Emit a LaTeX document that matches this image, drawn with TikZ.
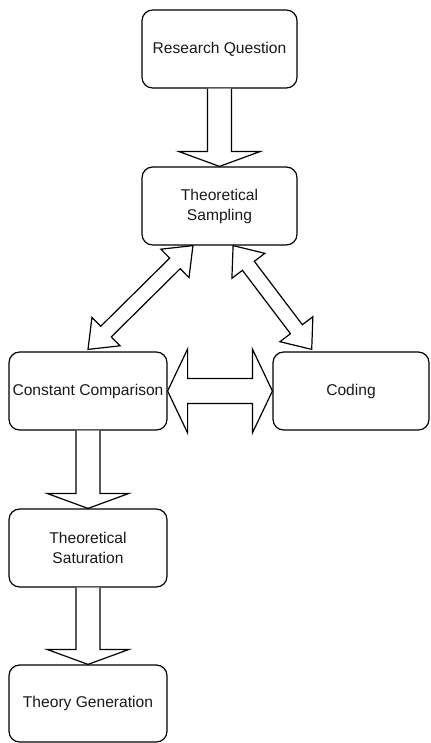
\documentclass[tikz,border=0pt]{standalone}
\usepackage{fontspec}
\setmainfont{Liberation Sans}
\usetikzlibrary{calc}
\tikzset{
  box/.style={draw, rounded corners=8pt, line width=0.9pt, align=center, inner sep=0pt,
    font=\fontsize{11.7}{15}\selectfont, text=black!90},
  flex/.style={draw, line width=0.9pt, fill=white, line join=miter}
}
\newcommand{\dblflex}[5]{%
  \coordinate (fa) at (#1);
  \coordinate (fb) at (#2);
  \coordinate (fa1) at ($(fa)!#3!(fb)$);
  \coordinate (fb1) at ($(fb)!#3!(fa)$);
  \draw[flex] (fa) -- ($(fa1)!#4!90:(fb)$) -- ($(fa1)!#5!90:(fb)$) -- ($(fb1)!#5!-90:(fa)$) -- ($(fb1)!#4!-90:(fa)$) -- (fb) -- ($(fb1)!#4!90:(fa)$) -- ($(fb1)!#5!90:(fa)$) -- ($(fa1)!#5!-90:(fb)$) -- ($(fa1)!#4!-90:(fb)$) -- cycle;
}
\newcommand{\oneflex}[5]{%
  \coordinate (fa) at (#1);
  \coordinate (fb) at (#2);
  \coordinate (fb1) at ($(fb)!#3!(fa)$);
  \draw[flex] ($(fa)!#5!90:(fb)$) -- ($(fb1)!#5!-90:(fa)$) -- ($(fb1)!#4!-90:(fa)$) -- (fb) -- ($(fb1)!#4!90:(fa)$) -- ($(fb1)!#5!90:(fa)$) -- ($(fa)!#5!-90:(fb)$);
}
\begin{document}
\begin{tikzpicture}[x=0.75pt, y=-0.75pt]
  \useasboundingbox (0,0) rectangle (430,743);
  \node[box, minimum width=116.25pt, minimum height=58.5pt] (rq) at (219.5,49) {Research Question};
  \node[box, minimum width=116.25pt, minimum height=58.5pt] (ts) at (219.5,206) {Theoretical\\Sampling};
  \node[box, minimum width=118.5pt, minimum height=58.5pt] (cc) at (88,391) {Constant Comparison};
  \node[box, minimum width=117pt, minimum height=58.5pt] (cod) at (351,391) {Coding};
  \node[box, minimum width=118.5pt, minimum height=58.5pt] (sat) at (88,548) {Theoretical\\Saturation};
  \node[box, minimum width=118.5pt, minimum height=57.75pt] (gen) at (88,703.5) {Theory Generation};
  % connectors
  \oneflex{rq.south}{ts.north}{11.25pt}{30.75pt}{9pt}
  \oneflex{cc.south}{sat.north}{11.25pt}{30.75pt}{9pt}
  \oneflex{sat.south}{gen.north}{11.25pt}{30.75pt}{9pt}
  \dblflex{cc.east}{cod.west}{15pt}{31.5pt}{9.4pt}
  \dblflex{$(cc.north)+(0,-2)$}{$(ts.south west)!0.33!(ts.south east)$}{19pt}{15pt}{5.6pt}
  \dblflex{$(ts.south west)!0.587!(ts.south east)$}{$(cod.north west)!0.25!(cod.north east)+(0,-2)$}{19pt}{15.5pt}{5.6pt}
\end{tikzpicture}
\end{document}
